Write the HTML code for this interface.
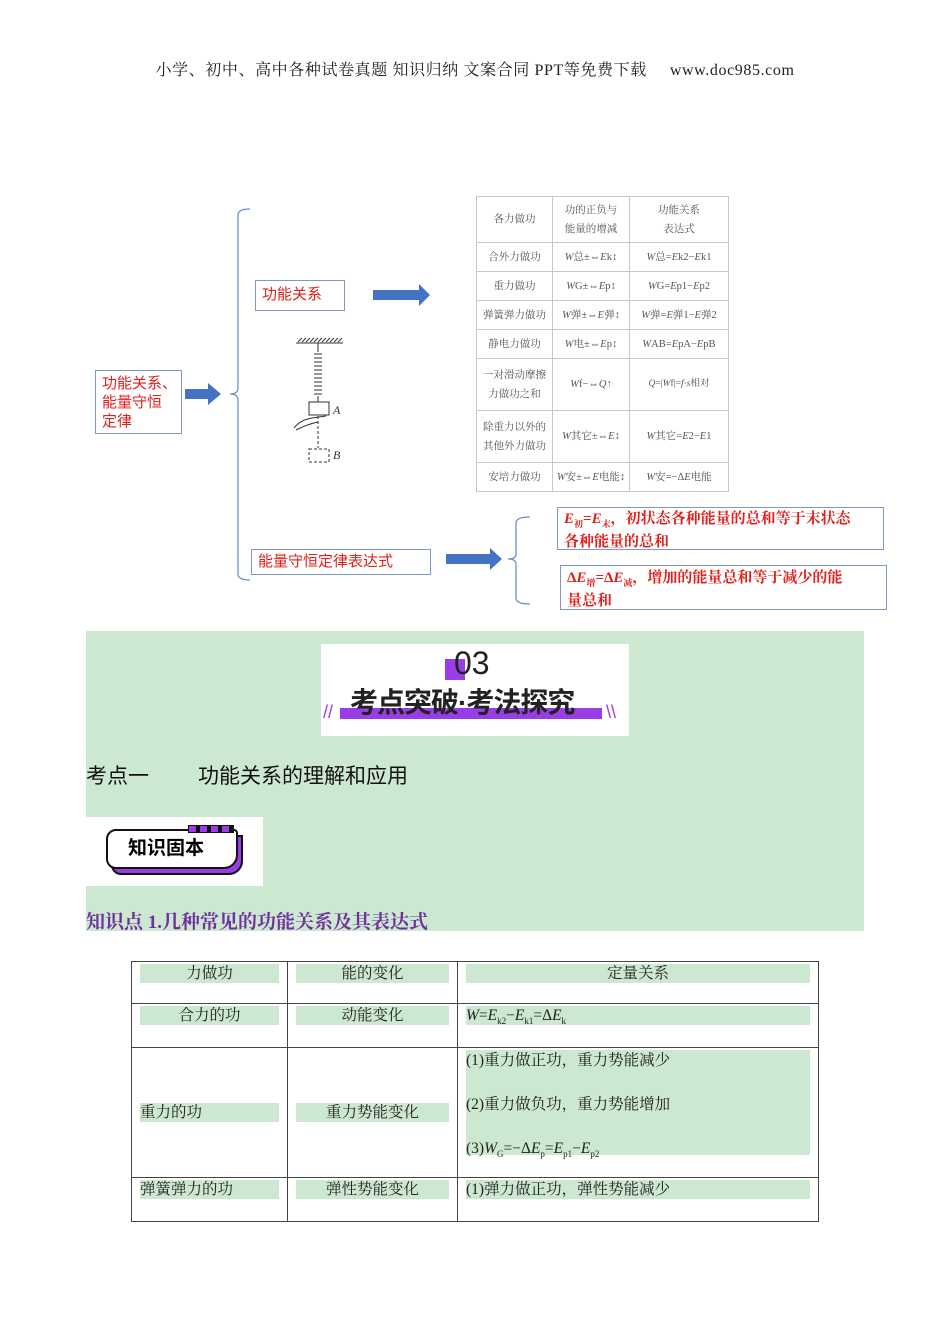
<!DOCTYPE html>
<html><head><meta charset="utf-8"><style>
body{margin:0;background:#fff;}
#p{position:relative;width:950px;height:1344px;overflow:hidden;font-family:"Liberation Serif","Noto Serif CJK SC",serif;}
.a{position:absolute;}
.box{position:absolute;border:1px solid #7f96c8;background:#fff;color:#e0201c;font-family:"Liberation Sans","Noto Sans CJK SC",sans-serif;box-sizing:border-box;}
.t{position:absolute;border-collapse:collapse;}
#tt td{border:1px solid #c8c8c8;color:#555;font-size:10.5px;text-align:center;padding:0;line-height:19px;}
#bt td{border:1px solid #444;vertical-align:top;padding:0;font-size:15.5px;color:#222;}
.g{background:#cde8d0;display:block;margin:2px 8px 0 8px;height:19px;line-height:19px;}
</style></head><body><div id="p">
<div class="a" style="left:0;width:950px;top:57px;text-align:center;font-size:16px;color:#222;letter-spacing:0.6px;">小学、初中、高中各种试卷真题 知识归纳 文案合同 PPT等免费下载&nbsp;&nbsp;&nbsp;&nbsp; www.doc985.com</div>

<svg class="a" style="left:0;top:0" width="950" height="640">
<path d="M250 209 Q238 209 238 215 L238 388 Q238 394 230 394 Q238 394 238 400 L238 574 Q238 580 250 580" fill="none" stroke="#6f8fc9" stroke-width="1.3"/>
<path d="M530 517 Q516 517 516 523 L516 554 Q516 559 508 559 Q516 559 516 564 L516 598 Q516 604 530 604" fill="none" stroke="#6f8fc9" stroke-width="1.3"/>
<g fill="#4472c4">
<path d="M185 389 L208 389 L208 383 L221 394 L208 405 L208 399 L185 399Z"/>
<path d="M373 290 L419 290 L419 284 L430 295 L419 306 L419 300 L373 300Z"/>
<path d="M446 554 L490 554 L490 548 L502 559 L490 570 L490 564 L446 564Z"/>
</g>
<g stroke="#333" fill="none" stroke-width="1">
<line x1="296" y1="343" x2="343" y2="343"/>
<path d="M298 342 l4 -4 M302 342 l4 -4 M306 342 l4 -4 M310 342 l4 -4 M314 342 l4 -4 M318 342 l4 -4 M322 342 l4 -4 M326 342 l4 -4 M330 342 l4 -4 M334 342 l4 -4 M338 342 l4 -4"/>
<path d="M318 343 L318 352 M314 354 h8 M314 358 h8 M314 362 h8 M314 366 h8 M314 370 h8 M314 374 h8 M314 378 h8 M314 382 h8 M314 386 h8 M314 390 h8 M314 394 h8 M318 396 L318 402"/>
<rect x="309" y="402" width="20" height="13"/>
<path d="M318 416 L318 448" stroke-dasharray="3 2"/>
<rect x="309" y="449" width="20" height="13" stroke-dasharray="3 2"/>
<path d="M294 428 Q300 420 312 418 L326 416 M296 430 Q308 424 318 422"/>
</g>
<text x="333" y="414" font-size="12" font-style="italic" fill="#333">A</text>
<text x="333" y="459" font-size="12" font-style="italic" fill="#333">B</text>
</svg>

<div class="box" style="left:95px;top:370px;width:87px;height:64px;font-size:15px;line-height:19px;padding:3px 0 0 6px;">功能关系、<br>能量守恒<br>定律</div>
<div class="box" style="left:255px;top:280px;width:90px;height:31px;font-size:15px;line-height:27px;padding-left:6px;">功能关系</div>
<div class="box" style="left:251px;top:549px;width:180px;height:26px;font-size:15px;line-height:24px;padding-left:6px;">能量守恒定律表达式</div>
<div class="box" style="left:557px;top:507px;width:327px;height:43px;font-size:15px;line-height:18px;padding:2px 0 0 6px;font-family:'Liberation Serif','Noto Serif CJK SC',serif;font-weight:bold;"><i>E</i><sub style="font-size:9px">初</sub>=<i>E</i><sub style="font-size:9px">末</sub>，初状态各种能量的总和等于末状态<br>各种能量的总和</div>
<div class="box" style="left:560px;top:565px;width:327px;height:45px;font-size:15px;line-height:18px;padding:3px 0 0 6px;font-family:'Liberation Serif','Noto Serif CJK SC',serif;font-weight:bold;">Δ<i>E</i><sub style="font-size:9px">增</sub>=Δ<i>E</i><sub style="font-size:9px">减</sub>，增加的能量总和等于减少的能<br>量总和</div>

<table class="t" id="tt" style="left:476px;top:196px;width:253px;height:296px;">
<tr style="height:46px"><td style="width:75px">各力做功</td><td style="width:76px">功的正负与<br>能量的增减</td><td>功能关系<br>表达式</td></tr>
<tr style="height:29px"><td>合外力做功</td><td><i>W</i>总±⇔<i>E</i>k↕</td><td><i>W</i>总=<i>E</i>k2−<i>E</i>k1</td></tr>
<tr style="height:29px"><td>重力做功</td><td><i>W</i>G±⇔<i>E</i>p↕</td><td><i>W</i>G=<i>E</i>p1−<i>E</i>p2</td></tr>
<tr style="height:29px"><td>弹簧弹力做功</td><td><i>W</i>弹±⇔<i>E</i>弹↕</td><td><i>W</i>弹=<i>E</i>弹1−<i>E</i>弹2</td></tr>
<tr style="height:29px"><td>静电力做功</td><td><i>W</i>电±⇔<i>E</i>p↕</td><td><i>W</i>AB=<i>E</i>pA−<i>E</i>pB</td></tr>
<tr style="height:52px"><td>一对滑动摩擦<br>力做功之和</td><td><i>W</i>f−⇔<i>Q</i>↑</td><td style="font-size:9.5px"><i>Q</i>=|<i>W</i>f|=<i>f</i>·<i>s</i>相对</td></tr>
<tr style="height:52px"><td>除重力以外的<br>其他外力做功</td><td><i>W</i>其它±⇔<i>E</i>↕</td><td><i>W</i>其它=<i>E</i>2−<i>E</i>1</td></tr>
<tr style="height:29px"><td>安培力做功</td><td><i>W</i>安±⇔<i>E</i>电能↕</td><td><i>W</i>安=−Δ<i>E</i>电能</td></tr>
</table>

<div class="a" style="left:86px;top:631px;width:778px;height:300px;background:#cde8d0;"></div>
<div class="a" style="left:321px;top:644px;width:308px;height:92px;background:#fff;"></div>
<div class="a" style="left:445px;top:659px;width:20px;height:21px;background:#9b3de6;"></div>
<div class="a" style="left:454px;top:644px;font-family:'Liberation Sans',sans-serif;font-size:32px;color:#222;line-height:38px;">03</div>
<div class="a" style="left:340px;top:708px;width:262px;height:11px;background:#9b3de6;"></div>
<div class="a" style="left:350px;top:685px;font-family:'Liberation Sans','Noto Sans CJK SC',sans-serif;font-weight:bold;font-size:28px;line-height:36px;color:#222;letter-spacing:-1px;">考点突破·考法探究</div>
<div class="a" style="left:323px;top:702px;color:#9b3de6;font-size:18px;font-family:'Liberation Sans',sans-serif;">//</div>
<div class="a" style="left:606px;top:702px;color:#9b3de6;font-size:18px;font-family:'Liberation Sans',sans-serif;">\\</div>
<div class="a" style="left:86px;top:760px;font-family:'Liberation Sans','Noto Sans CJK SC',sans-serif;font-size:21px;color:#111;">考点一</div>
<div class="a" style="left:198px;top:760px;font-family:'Liberation Sans','Noto Sans CJK SC',sans-serif;font-size:21px;color:#111;">功能关系的理解和应用</div>
<div class="a" style="left:86px;top:817px;width:177px;height:69px;background:#fff;"></div>
<div class="a" style="left:111px;top:835px;width:128px;height:36px;background:#9b3de6;border:2px solid #111;border-radius:0 0 14px 10px;"></div>
<div class="a" style="left:106px;top:829px;height:36px;background:#fff;border:2px solid #111;border-radius:10px 4px 14px 10px;font-family:'Liberation Sans','Noto Sans CJK SC',sans-serif;font-weight:bold;font-size:19px;line-height:36px;padding-left:20px;width:108px;">知识固本</div>
<div class="a" style="left:188px;top:825px;width:44px;height:6px;background:repeating-linear-gradient(90deg,#9b3de6 0 7px,#111 7px 11px);border:1px solid #111;"></div>
<div class="a" style="left:86px;top:907px;font-size:19px;color:#7030a0;font-weight:bold;">知识点 1.几种常见的功能关系及其表达式</div>

<table class="t" id="bt" style="left:131px;top:961px;width:688px;height:261px;">
<tr style="height:42px"><td style="width:155px"><span class="g" style="text-align:center">力做功</span></td><td style="width:169px"><span class="g" style="text-align:center">能的变化</span></td><td><span class="g" style="text-align:center">定量关系</span></td></tr>
<tr style="height:44px"><td><span class="g" style="text-align:center">合力的功</span></td><td><span class="g" style="text-align:center">动能变化</span></td><td><span class="g"><i>W</i>=<i>E</i><sub style="font-size:9px">k2</sub>−<i>E</i><sub style="font-size:9px">k1</sub>=Δ<i>E</i><sub style="font-size:9px">k</sub></span></td></tr>
<tr style="height:130px"><td style="vertical-align:middle"><span class="g" style="margin-top:0">重力的功</span></td><td style="vertical-align:middle"><span class="g" style="text-align:center;margin-top:0">重力势能变化</span></td><td><div style="background:#cde8d0;margin:2px 8px 0 8px;height:105px;line-height:22px;"><div style="height:44px">(1)重力做正功，重力势能减少</div><div style="height:44px">(2)重力做负功，重力势能增加</div><div>(3)<i>W</i><sub style="font-size:9px">G</sub>=−Δ<i>E</i><sub style="font-size:9px">p</sub>=<i>E</i><sub style="font-size:9px">p1</sub>−<i>E</i><sub style="font-size:9px">p2</sub></div></div></td></tr>
<tr style="height:44px"><td><span class="g">弹簧弹力的功</span></td><td><span class="g" style="text-align:center">弹性势能变化</span></td><td><span class="g">(1)弹力做正功，弹性势能减少</span></td></tr>
</table>
</div></body></html>
